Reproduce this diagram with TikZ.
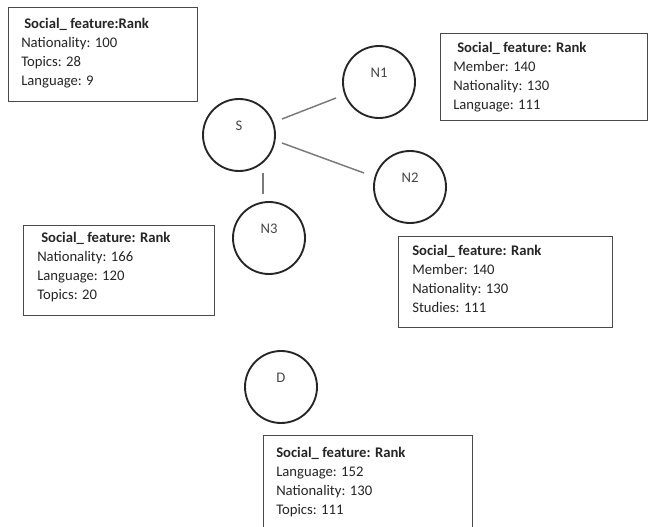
\documentclass[tikz,border=0pt]{standalone}
\usepackage{fontspec}
\setmainfont{Carlito}
\usetikzlibrary{calc}
\definecolor{inkc}{HTML}{262626}
\definecolor{boxc}{HTML}{4A4A4A}
\definecolor{edgec}{HTML}{7A7A7A}
\begin{document}
\begin{tikzpicture}[x=0.75pt,y=-0.75pt,
  vert/.style={circle,draw=inkc,line width=1.4pt,minimum size=54pt,inner sep=0pt},
  vlabel/.style={font=\fontsize{11}{13}\selectfont,text=inkc!85,inner sep=0pt},
  infobox/.style={draw=boxc,line width=1.1pt,anchor=north west,inner sep=0pt},
  infotext/.style={anchor=north west,inner sep=0pt,align=left,text=inkc,font=\fontsize{11}{14.25}\selectfont},
  conn/.style={draw=edgec,line width=1.1pt}]
\fill[white] (0,0) rectangle (649,527);
\useasboundingbox (0,0) rectangle (649,527);
\clip (0,0) rectangle (649,527);
% vertices
\node[vert] (S) at (239,135) {};
\node[vert] (N1) at (379,82) {};
\node[vert] (N2) at (410,187) {};
\node[vert] (N3) at (269,238) {};
\node[vert] (D) at (281,387) {};
\node[vlabel] (lS) at ($(S)+(0,-9)$) {S};
\node[vlabel] (lN1) at ($(N1)+(0,-9)$) {N1};
\node[vlabel] (lN2) at ($(N2)+(0,-9)$) {N2};
\node[vlabel] (lN3) at ($(N3)+(0,-9)$) {N3};
\node[vlabel] (lD) at ($(D)+(0,-9)$) {D};
% connectors
\draw[conn] ($(S)+(43,-16)$) -- ($(N1)+(-43,16)$);
\draw[conn] ($(S)+(43,8)$) -- ($(N2)+(-46,-14)$);
\draw[conn] ($(S)+(24,38)$) -- ($(N3)+(-6,-44)$);
% boxes
\node[infobox,minimum width=141.75pt,minimum height=70.5pt] (B1) at (8,7) {};
\node[infobox,minimum width=155.25pt,minimum height=65.25pt] (B2) at (440,33) {};
\node[infobox,minimum width=143.25pt,minimum height=67.5pt] (B3) at (23,225) {};
\node[infobox,minimum width=160.5pt,minimum height=68.25pt] (B4) at (398,236) {};
\node[infobox,minimum width=156.75pt,minimum height=80pt] (B5) at (263,435) {};
\node[infotext] (T1) at (21,17.5) {\hspace*{2.25pt}\textbf{Social\_ feature:Rank}\\Nationality: 100\\Topics: 28\\Language: 9};
\node[infotext] (T2) at (453,41.5) {\hspace*{3pt}\textbf{Social\_ feature: Rank}\\Member: 140\\Nationality: 130\\Language: 111};
\node[infotext] (T3) at (37,231.5) {\hspace*{3pt}\textbf{Social\_ feature: Rank}\\Nationality: 166\\Language: 120\\Topics: 20};
\node[infotext] (T4) at (412,244.5) {\textbf{Social\_ feature: Rank}\\Member: 140\\Nationality: 130\\Studies: 111};
\node[infotext] (T5) at (276,446.5) {\textbf{Social\_ feature: Rank}\\Language: 152\\Nationality: 130\\Topics: 111};
\end{tikzpicture}
\end{document}
